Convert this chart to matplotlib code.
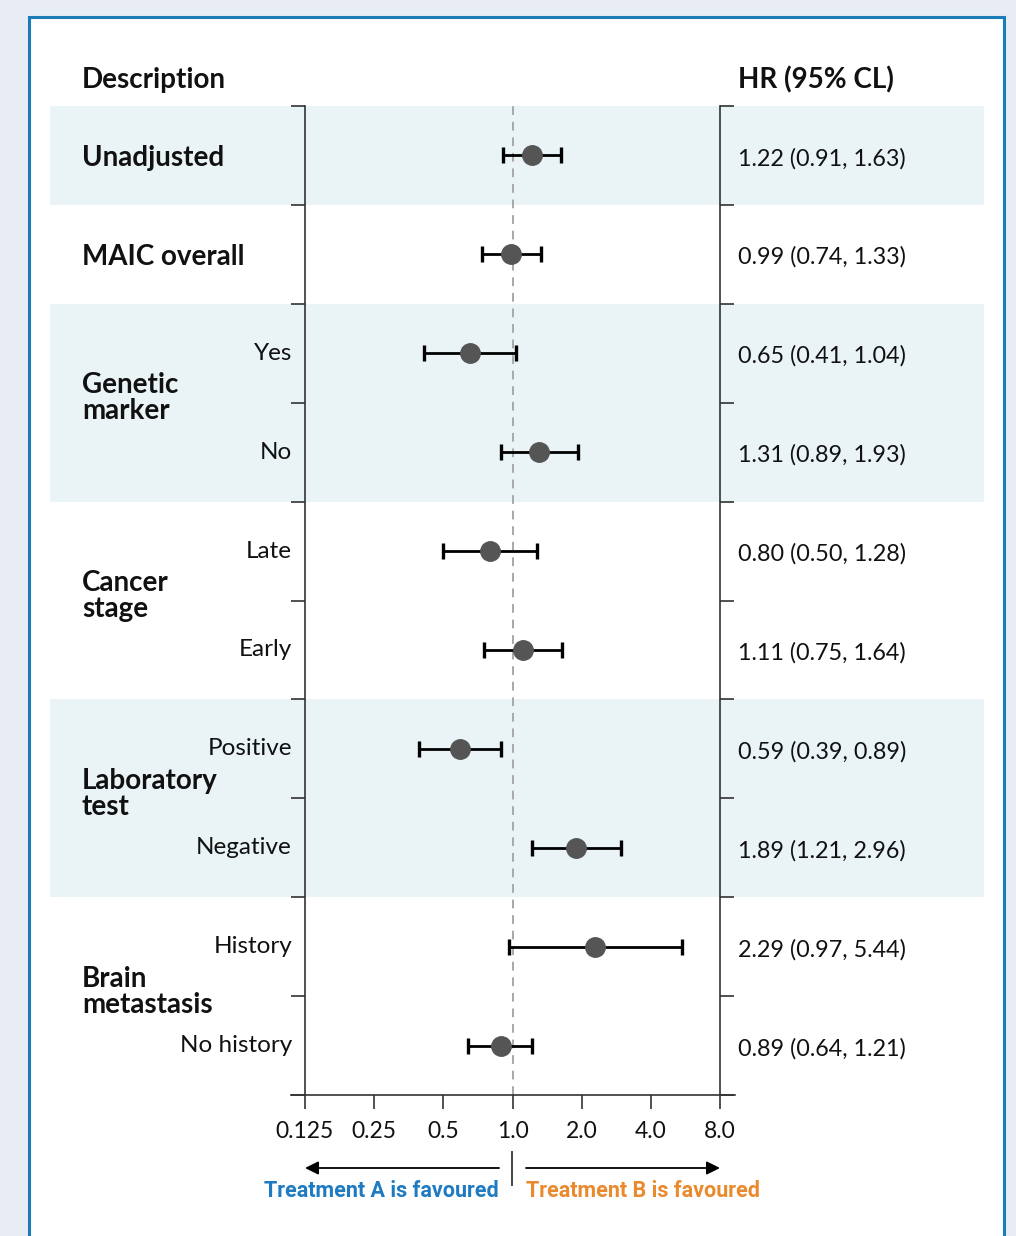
import numpy as np
import matplotlib
matplotlib.use("Agg")
import matplotlib.pyplot as plt
import matplotlib.transforms as mtransforms
from matplotlib.patches import Rectangle
from matplotlib.lines import Line2D

plt.rcParams['font.family'] = ['Lato', 'DejaVu Sans']

# data
row_labels = ["", "", "Yes", "No", "Late", "Early", "Positive", "Negative", "History", "No history"]
hr = [1.22, 0.99, 0.65, 1.31, 0.80, 1.11, 0.59, 1.89, 2.29, 0.89]
lo = [0.91, 0.74, 0.41, 0.89, 0.50, 0.75, 0.39, 1.21, 0.97, 0.64]
hi = [1.63, 1.33, 1.04, 1.93, 1.28, 1.64, 0.89, 2.96, 5.44, 1.21]
groups = ["Unadjusted", "MAIC overall", "Genetic\nmarker", "Cancer\nstage", "Laboratory\ntest", "Brain\nmetastasis"]
group_rows = [(0, 1), (1, 2), (2, 4), (4, 6), (6, 8), (8, 10)]
shaded = [0, 2, 4]
xticks = [0.125, 0.25, 0.5, 1.0, 2.0, 4.0, 8.0]
xticklabels = ["0.125", "0.25", "0.5", "1.0", "2.0", "4.0", "8.0"]

W, H = 1016, 1236
fig = plt.figure(figsize=(W / 100, H / 100), dpi=100)
fig.patch.set_facecolor("#e8edf5")

def fx(px):
    return px / W

def fy(py):
    return 1 - py / H

# white panel with blue border
fig.add_artist(Rectangle((fx(29), fy(1250)), fx(1004) - fx(29), fy(17) - fy(1250),
                         transform=fig.transFigure, facecolor="white",
                         edgecolor="#1a7db8", lw=2.2, zorder=0))

ax = fig.add_axes([fx(305), fy(1095), fx(720) - fx(305), fy(106) - fy(1095)])
ax.patch.set_visible(False)
ax.set_xscale("log", base=2)
ax.set_xlim(0.125, 8)
ax.set_ylim(10, 0)

blend = mtransforms.blended_transform_factory(fig.transFigure, ax.transData)

# shaded bands
for g in shaded:
    r0, r1 = group_rows[g]
    ax.add_patch(Rectangle((fx(50), r0), fx(984) - fx(50), r1 - r0, transform=blend,
                           facecolor="#eaf4f7", edgecolor="none", clip_on=False, zorder=0))

ax.axvline(1.0, color="#a8a8a8", lw=1.4, ls=(0, (4.5, 3.5)), zorder=1)

y = np.arange(len(hr)) + 0.5
hr_a = np.array(hr)
xerr = [hr_a - np.array(lo), np.array(hi) - hr_a]
ax.errorbar(hr, y, xerr=xerr, fmt="none", ecolor="black", elinewidth=2.0,
            capsize=5.5, capthick=2.4, zorder=2)
ax.plot(hr, y, "o", color="#555555", markersize=14, zorder=3)

# spines and ticks
for s in ["top", "bottom"]:
    ax.spines[s].set_visible(False)
for s in ["left", "right"]:
    ax.spines[s].set_color("#333333")
    ax.spines[s].set_linewidth(1.2)
ax.set_yticks(np.arange(0, 11))
ax.tick_params(axis="y", left=True, right=True, labelleft=False, labelright=False,
               direction="out", length=10, width=1.2, color="#333333")
ax.set_xticks(xticks)
ax.set_xticklabels(xticklabels)
ax.minorticks_off()
ax.tick_params(axis="x", direction="out", length=10, width=1.2, color="#333333",
               labelsize=16.5, pad=9, labelcolor="#111111")
fig.add_artist(Line2D([fx(291), fx(735)], [fy(1095), fy(1095)], transform=fig.transFigure,
                      color="#333333", lw=1.2))

# headers
fig.text(fx(82), fy(80), "Description", fontsize=20, fontweight="bold", va="center", color="#111111")
fig.text(fx(738), fy(80), "HR (95% CL)", fontsize=20, fontweight="bold", va="center", color="#111111")

# group labels
for name, (r0, r1) in zip(groups, group_rows):
    off = 0.03 if r1 - r0 == 1 else -0.045
    ax.text(fx(82), (r0 + r1) / 2 + off, name, transform=blend, fontsize=20, fontweight="bold",
            va="center", ha="left", linespacing=1.0, color="#111111")

# sub labels and HR text
for i, lab in enumerate(row_labels):
    if lab:
        ax.text(fx(292), y[i], lab, transform=blend, fontsize=17.5, ha="right", va="center",
                color="#111111")
    ax.text(fx(738), y[i] + 0.03, f"{hr[i]:.2f} ({lo[i]:.2f}, {hi[i]:.2f})", transform=blend,
            fontsize=16.8, ha="left", va="center", color="#111111")

# favoured arrows
ax.annotate("", xy=(fx(305), fy(1168)), xytext=(fx(499), fy(1168)), xycoords=fig.transFigure,
            textcoords=fig.transFigure,
            arrowprops=dict(arrowstyle="-|>", color="black", lw=1.3, mutation_scale=20,
                            shrinkA=0, shrinkB=0))
ax.annotate("", xy=(fx(720), fy(1168)), xytext=(fx(526), fy(1168)), xycoords=fig.transFigure,
            textcoords=fig.transFigure,
            arrowprops=dict(arrowstyle="-|>", color="black", lw=1.3, mutation_scale=20,
                            shrinkA=0, shrinkB=0))
fig.add_artist(Line2D([fx(512), fx(512)], [fy(1152), fy(1185)], transform=fig.transFigure,
                      color="#444444", lw=1.4))
fig.text(fx(499), fy(1191), "Treatment A is favoured", color="#1f7bc1", fontsize=15.5,
         fontweight="bold", ha="right", va="center", family=["Roboto", "DejaVu Sans"])
fig.text(fx(526), fy(1191), "Treatment B is favoured", color="#e98a2e", fontsize=15.5,
         fontweight="bold", ha="left", va="center", family=["Roboto", "DejaVu Sans"])

fig.savefig("out.png", dpi=100, facecolor=fig.get_facecolor())
